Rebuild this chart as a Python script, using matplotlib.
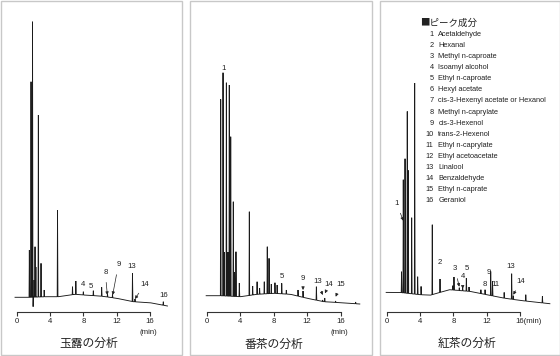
import numpy as np
import matplotlib
matplotlib.use('Agg')
import matplotlib.pyplot as plt
from matplotlib.patches import Rectangle

W, H, DPI = 560, 356, 100

# ---------------- data (time in min, signal in arbitrary units) ----------------
# 玉露
gyo_base_t = [-0.2, 1.5, 3.5, 5.0, 7.0, 8.0, 10.0, 12.0, 14.0, 16.0, 18.1]
gyo_base_s = [14.7, 14.7, 15.3, 15.3, 17.7, 17.0, 16.0, 13.7, 10.3, 9.3, 6.0]
gyo_peak_t = [1.52, 1.72, 1.90, 1.97, 2.10, 2.20, 2.30, 2.60, 2.92, 3.30, 4.90,
              6.70, 7.10, 8.00, 9.20, 10.20, 10.90, 11.50, 13.90, 14.20, 17.60]
gyo_peak_s = [62, 230.3, 290.3, 5.3, 32, 65.3, 45, 197, 48.7, 22, 102,
              25.3, 31, 20.3, 21.3, 24.7, 18, 17.5, 38.7, 13, 10.3]

# 番茶
ban_base_t = [-0.1, 1.6, 4.0, 6.0, 8.0, 10.0, 12.0, 14.0, 16.0, 18.3]
ban_base_s = [16.3, 16.3, 15.3, 17.7, 18.7, 17.7, 13.7, 10.3, 9.3, 8.0]
ban_peak_t = [1.64, 1.92, 2.05, 2.32, 2.50, 2.67, 2.84, 3.15, 3.30, 3.47, 3.87,
              5.07, 5.47, 6.00, 6.30, 6.86, 7.22, 7.43, 7.70, 8.14, 8.40, 8.95,
              9.50, 10.90, 11.50, 13.10, 13.85, 14.10, 15.40, 17.80]
ban_peak_s = [212.7, 239.3, 60, 229.3, 60, 227, 175.3, 110.3, 40, 60.3, 29,
              100.3, 26, 30.3, 24, 30.3, 65.3, 53.7, 28, 29.3, 27, 28.7,
              22, 22, 21, 25.3, 12, 14, 11, 10]

# 紅茶
kou_base_t = [-0.1, 1.5, 4.0, 5.2, 7.5, 10.0, 12.0, 14.0, 16.0, 19.6]
kou_base_s = [19.3, 19.3, 17.0, 16.5, 22.0, 20.3, 17.0, 13.7, 11.3, 8.0]
kou_peak_t = [1.75, 1.96, 2.17, 2.44, 2.56, 2.97, 3.33, 3.69, 4.10, 5.45,
              6.38, 7.90, 8.06, 8.70, 9.10, 9.55, 9.87, 11.30, 11.80, 12.48,
              12.70, 14.10, 15.00, 15.20, 16.70, 18.70]
kou_peak_s = [40, 132, 153, 200.3, 141.3, 94, 228.7, 35, 25.3, 87,
              32.7, 26, 34.7, 24, 25, 33.7, 24.7, 22, 22, 40.3,
              30.3, 19.3, 38, 16, 17, 15.3]

# peak labels: (text, label t, label signal, arrow target t or None, target signal)
gyo_labels = [("4", 7.96, 27, None, None), ("5", 8.88, 26, None, None),
              ("8", 10.64, 39.3, 10.88, 17), ("9", 12.2, 47, 11.52, 17),
              ("13", 13.84, 45.3, None, None), ("14", 15.37, 28, 14.2, 13),
              ("16", 17.6, 16.3, None, None)]
ban_labels = [("1", 1.95, 243.7, None, None), ("5", 8.94, 36, None, None),
              ("9", 11.5, 34, 11.5, 22), ("13", 13.26, 30.3, 13.86, 17),
              ("14", 14.57, 27, 14.13, 18.7), ("15", 16.0, 27, 15.41, 15.3)]
kou_labels = [("1", 1.17, 108, 1.96, 91), ("2", 6.38, 48.7, None, None),
              ("3", 8.18, 42.7, 8.7, 25), ("4", 9.11, 35.3, 9.11, 23),
              ("5", 9.66, 42.7, None, None), ("8", 11.8, 27.7, None, None),
              ("9", 12.3, 39.3, None, None), ("11", 13.0, 27.7, None, None),
              ("13", 14.92, 45.3, None, None), ("14", 16.09, 30.3, 15.2, 17)]

ticks = [0, 4, 8, 12, 16]
titles = ["玉露の分析", "番茶の分析", "紅茶の分析"]
legend_title = "■ピーク成分"
components = ["Acetaldehyde", "Hexanal", "Methyl n-caproate", "Isoamyl alcohol",
              "Ethyl n-caproate", "Hexyl acetate", "cis-3-Hexenyl acetate or Hexanol",
              "Methyl n-caprylate", "cis-3-Hexenol", "trans-2-Hexenol",
              "Ethyl n-caprylate", "Ethyl acetoacetate", "Linalool", "Benzaldehyde",
              "Ethyl n-caprate", "Geraniol"]

# ---------------- layout (pixels) ----------------
panels = [
    dict(xl=0, xr=181, px0=16.7, k=8.33, y0=312, title_x=88.8, title_y=343,
         bt=gyo_base_t, bs=gyo_base_s, pt=gyo_peak_t, ps=gyo_peak_s, labels=gyo_labels,
         title=titles[0], minlab='sep'),
    dict(xl=189, xr=371, px0=207, k=8.35, y0=312, title_x=274.3, title_y=344,
         bt=ban_base_t, bs=ban_base_s, pt=ban_peak_t, ps=ban_peak_s, labels=ban_labels,
         title=titles[1], minlab='sep'),
    dict(xl=379, xr=559, px0=387, k=8.31, y0=311.7, title_x=466.7, title_y=343.3,
         bt=kou_base_t, bs=kou_base_s, pt=kou_peak_t, ps=kou_peak_s, labels=kou_labels,
         title=titles[2], minlab='inline'),
]

plt.rcParams['font.family'] = ['Liberation Sans', 'Noto Sans CJK JP']
fig = plt.figure(figsize=(W / DPI, H / DPI), dpi=DPI)
fig.patch.set_facecolor('white')

JP = ['Noto Sans CJK JP']
LINE = '#1a1a1a'


def build_trace(bt, bs, pt, ps, w=0.035):
    t = np.arange(bt[0], bt[-1], 0.002)
    t = np.union1d(t, np.asarray(pt, float))
    y = np.interp(t, bt, bs)
    for p, s in zip(pt, ps):
        amp = s - np.interp(p, bt, bs)
        y = y + amp * np.clip(1 - np.abs(t - p) / w, 0, None)
    return t, y


for P in panels:
    # border
    fig.patches.append(Rectangle(((P['xl'] + 0.5) / W, 1 - 354.5 / H),
                                 (P['xr'] - P['xl']) / W, 354 / H,
                                 transform=fig.transFigure, fill=False,
                                 edgecolor='#c8c8c8', linewidth=1.0))
    ax = fig.add_axes([P['xl'] / W, 0, (P['xr'] - P['xl']) / W, 1])
    ax.set_facecolor('none')
    ax.set_xlim((P['xl'] - P['px0']) / P['k'], (P['xr'] - P['px0']) / P['k'])
    ax.set_ylim(P['y0'] - H, P['y0'])
    t, y = build_trace(P['bt'], P['bs'], P['pt'], P['ps'])
    ax.plot(t, y, color=LINE, lw=0.65, solid_joinstyle='miter')

    for s in ['top', 'left', 'right']:
        ax.spines[s].set_visible(False)
    ax.spines['bottom'].set_position(('data', 0))
    ax.spines['bottom'].set_bounds(0, 16)
    ax.spines['bottom'].set_color('#333333')
    ax.spines['bottom'].set_linewidth(0.8)
    ax.set_yticks([])
    ax.set_xticks(ticks)
    if P['minlab'] == 'inline':
        ax.set_xticklabels([str(v) for v in ticks[:-1]] + [""])
        ax.annotate("16(min)", xy=(16, 0), xytext=(-3.2, -4.6), textcoords='offset points',
                    ha='left', va='top', fontsize=5.6, color='#222222')
    else:
        ax.set_xticklabels([str(v) for v in ticks])
        ax.annotate("(min)", xy=(15.86, 0), xytext=(0, -14.4), textcoords='offset points',
                    ha='center', va='center', fontsize=5.6, color='#222222')
    ax.tick_params(axis='x', direction='out', length=2.9, width=0.8, color='#333333',
                   labelsize=5.6, pad=1.6, labelcolor='#222222')

    for txt, lt, ls, at, as_ in P['labels']:
        if at is None:
            ax.text(lt, ls, txt, ha='center', va='center', fontsize=5.6, color='#222222')
        else:
            ax.annotate(txt, xy=(at, as_), xytext=(lt, ls), ha='center', va='center',
                        fontsize=5.6, color='#222222',
                        arrowprops=dict(arrowstyle='-|>', color='#222222', lw=0.5,
                                        mutation_scale=4.5, shrinkA=2.5, shrinkB=0))

    fig.text(P['title_x'] / W, 1 - P['title_y'] / H, P['title'], ha='center', va='center',
             fontsize=8.5, family=JP, color='#222222')

# legend in third panel
fig.text(420 / W, 1 - 23 / H, legend_title, ha='left', va='center', fontsize=6.8,
         family=JP, color='#222222')
for i, name in enumerate(components):
    yy = 1 - (34.3 + i * 11.1) / H
    fig.text(433.5 / W, yy, str(i + 1), ha='right', va='center', fontsize=5.3, color='#222222')
    fig.text(438.3 / W, yy, name, ha='left', va='center', fontsize=5.3, color='#222222')

fig.savefig('out.png', dpi=DPI)
